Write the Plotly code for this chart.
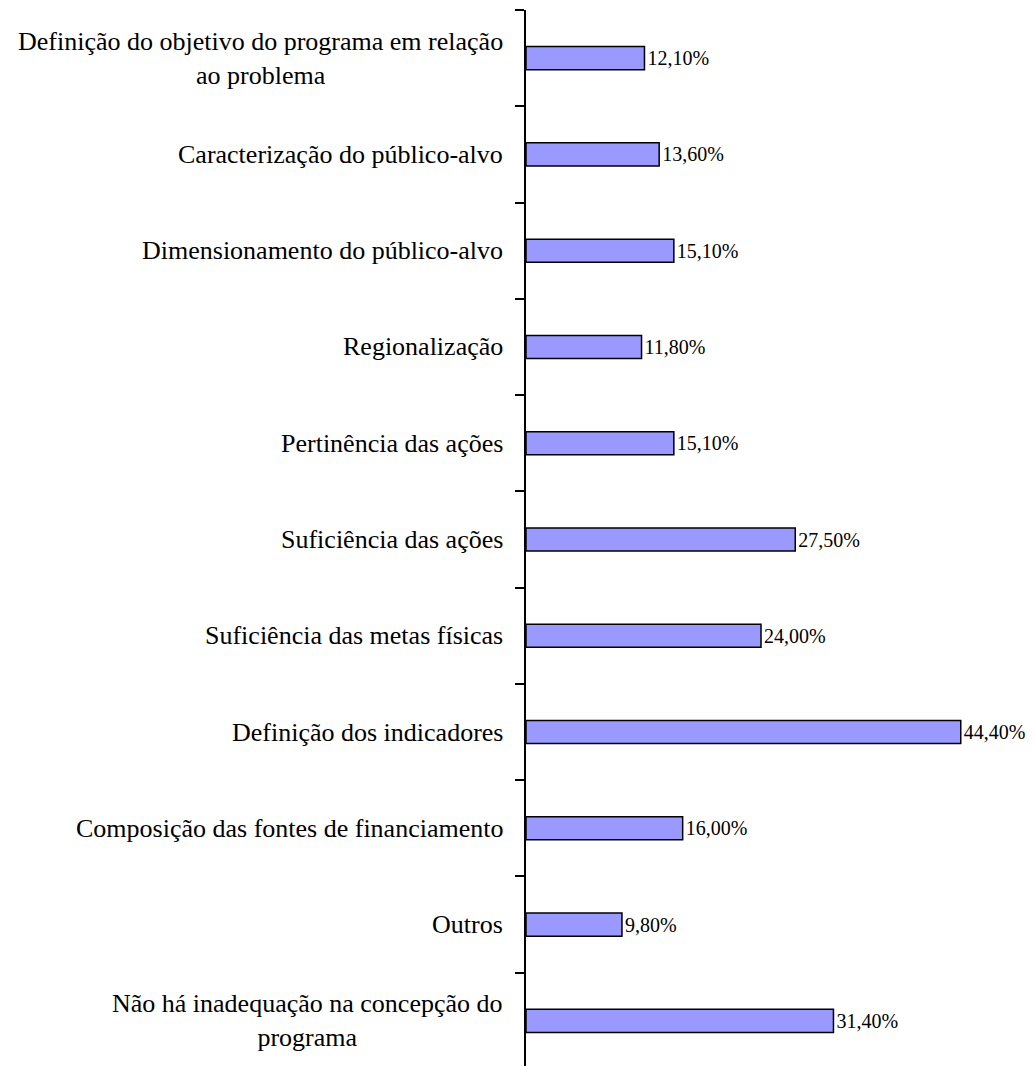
import plotly.graph_objects as go

# categorias (de cima para baixo) e percentuais
categorias = [
    "Definição do objetivo do programa em relação<br>ao problema",
    "Caracterização do público-alvo",
    "Dimensionamento do público-alvo",
    "Regionalização",
    "Pertinência das ações",
    "Suficiência das ações",
    "Suficiência das metas físicas",
    "Definição dos indicadores",
    "Composição das fontes de financiamento",
    "Outros",
    "Não há inadequação na concepção do<br>programa",
]
valores = [12.1, 13.6, 15.1, 11.8, 15.1, 27.5, 24.0, 44.4, 16.0, 9.8, 31.4]
rotulos = ["12,10%", "13,60%", "15,10%", "11,80%", "15,10%", "27,50%",
           "24,00%", "44,40%", "16,00%", "9,80%", "31,40%"]

FONTE = "Liberation Serif, Times New Roman, serif"

fig = go.Figure(
    go.Bar(
        x=valores,
        y=list(range(len(categorias))),
        orientation="h",
        width=0.24,
        marker=dict(color="#9999FF", line=dict(color="black", width=1.5)),
        text=rotulos,
        textposition="outside",
        textfont=dict(family=FONTE, size=20, color="black"),
        cliponaxis=False,
    )
)

# rótulos das categorias como anotações (centralizadas em várias linhas)
for i, cat in enumerate(categorias):
    fig.add_annotation(
        x=0, xref="paper", xanchor="right", xshift=-21,
        y=i, yref="y", yanchor="middle",
        text=cat, showarrow=False, align="center",
        font=dict(family=FONTE, size=26, color="black"),
    )

fig.update_layout(
    width=1035,
    height=1066,
    margin=dict(l=518, r=0, t=2, b=5),
    plot_bgcolor="white",
    paper_bgcolor="white",
    showlegend=False,
    font=dict(family=FONTE, color="black"),
)
fig.update_xaxes(range=[0, 52.8], visible=False)
fig.update_yaxes(
    range=[len(categorias) - 0.5, -0.5],
    showline=True, linecolor="black", linewidth=2,
    tickmode="array",
    tickvals=[i - 0.5 for i in range(len(categorias) + 1)],
    ticktext=[""] * (len(categorias) + 1),
    ticks="outside", ticklen=9, tickwidth=2, tickcolor="black",
    showgrid=False, zeroline=False,
)

fig.write_html("out.html")
